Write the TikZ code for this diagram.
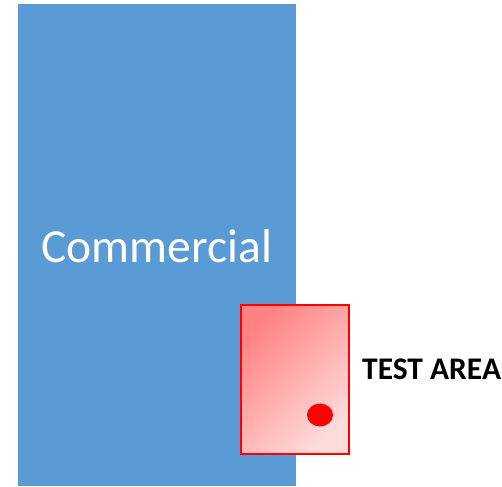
\documentclass[tikz,border=0pt]{standalone}
\usepackage{fontspec}
\usetikzlibrary{shapes.geometric}
\setmainfont{Carlito}
\begin{document}
\begin{tikzpicture}[x=1pt,y=-1pt,
  building/.style={fill=bluefill,draw=none},
  testbox/.style={draw=red,line width=2pt,top color=redA,bottom color=redB,shading angle=45},
  lbl/.style={font=\fontsize{31.5}{36}\selectfont\bfseries,anchor=base west,inner sep=0pt}]
\definecolor{bluefill}{HTML}{5B9BD5}
\definecolor{redA}{HTML}{FF8282}
\definecolor{redB}{HTML}{FFDCDC}
\useasboundingbox (0,0) rectangle (502,486);
\fill[bluefill] (18,4) rectangle (296,486);
\node[text=white,font=\fontsize{47.5}{56}\selectfont,inner sep=0pt,anchor=base] (comm) at (156.7,262.7) {Commercial};
\path[testbox] (240.5,304.5) rectangle (349,454);
\node[fill=red,ellipse,minimum width=26pt,minimum height=23pt,inner sep=0pt] (dot) at (320,415) {};
\node[lbl] (ta) at (362,379.3) {TEST AREA};
\end{tikzpicture}
\end{document}
